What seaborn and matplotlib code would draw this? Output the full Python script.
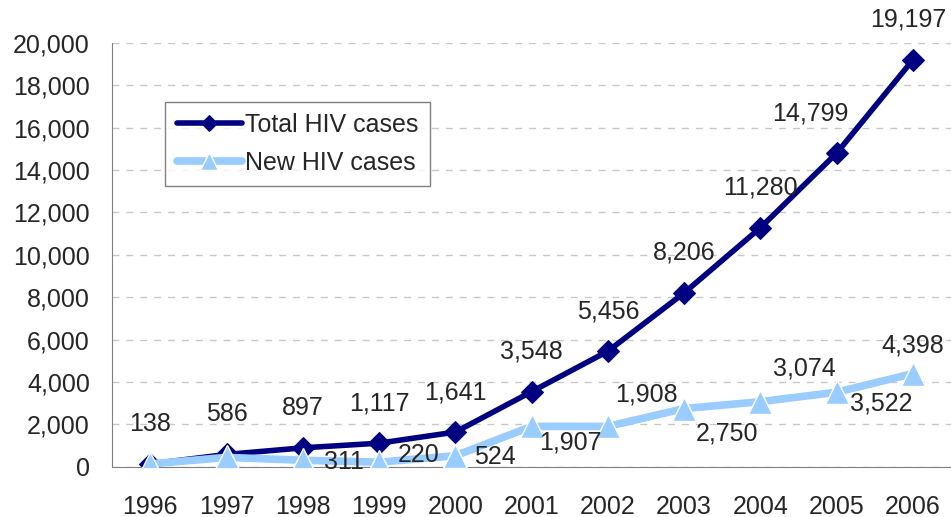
import pandas as pd
import matplotlib
matplotlib.use("Agg")
import matplotlib.pyplot as plt
import seaborn as sns

# Data
years = ["1996", "1997", "1998", "1999", "2000", "2001", "2002", "2003", "2004", "2005", "2006"]
total_cases = [138, 586, 897, 1117, 1641, 3548, 5456, 8206, 11280, 14799, 19197]
new_cases = [138, 448, 311, 220, 524, 1907, 1908, 2750, 3074, 3522, 4398]

# which labels the original shows for the new series, and where (pixel offsets)
new_label_shown = [False, False, True, True, True, True, True, True, True, True, True]
new_label_dx = [0, 0, 41, 40, 40, 39, 39, 43, 44, 45, 0]
new_label_dy = [0, 0, -2, 7, -1, -16, 32, -25, 33, -11, 28]
total_label_dx = [0, 0, 0, 0, 0, 0, 0, 0, 0, -26, -5]

NAVY = "#000080"
LIGHT = "#99CCFF"
FS = 18

sns.set_style("white")
plt.rcParams["font.family"] = ["Liberation Sans", "DejaVu Sans"]

df = pd.DataFrame({"pos": range(len(years)), "total": total_cases, "new": new_cases})

fig = plt.figure(figsize=(9.51, 5.17), dpi=100)
ax = fig.add_axes([0.118, 0.097, 0.882, 0.82])

sns.lineplot(data=df, x="pos", y="total", ax=ax, color=NAVY, linewidth=4,
             marker="D", markersize=11, markeredgecolor=NAVY,
             label="Total HIV cases", zorder=2)
sns.lineplot(data=df, x="pos", y="new", ax=ax, color=LIGHT, linewidth=5.5,
             marker="^", markersize=17, markeredgecolor="white", markeredgewidth=1,
             label="New HIV cases", zorder=3)

# data labels
for i, v in enumerate(total_cases):
    ax.annotate(f"{v:,}", (i, v), xytext=(total_label_dx[i], 40), textcoords="offset pixels",
                ha="center", va="center", fontsize=FS)
for i, v in enumerate(new_cases):
    if new_label_shown[i]:
        ax.annotate(f"{v:,}", (i, v), xytext=(new_label_dx[i], new_label_dy[i]),
                    textcoords="offset pixels", ha="center", va="center", fontsize=FS)

ax.set_xlim(-0.5, len(years) - 0.5)
ax.set_ylim(0, 20000)
ax.set_xticks(range(len(years)))
ax.set_xticklabels(years)
ax.set_yticks(range(0, 20001, 2000))
ax.set_yticklabels([f"{t:,}" for t in range(0, 20001, 2000)])
ax.tick_params(axis="both", length=0, labelsize=FS)
ax.tick_params(axis="x", pad=20)
ax.tick_params(axis="y", pad=16)
ax.set_xlabel("")
ax.set_ylabel("")

ax.yaxis.grid(True, linestyle=(0, (5, 5)), color="#c8c8c8", linewidth=1)
ax.set_axisbelow(True)
for s in ["top", "right"]:
    ax.spines[s].set_visible(False)
ax.spines["left"].set_color("#808080")
ax.spines["bottom"].set_color("#808080")

leg = ax.legend(loc="upper left",
                bbox_to_anchor=(0.174, 0.803), bbox_transform=fig.transFigure,
                fontsize=FS, fancybox=False, frameon=True, handlelength=2.6,
                handletextpad=0.15, borderpad=0.45, labelspacing=0.55, borderaxespad=0,
                markerscale=0.75)
leg.get_frame().set_edgecolor("#606060")
leg.get_frame().set_linewidth(1)

fig.savefig("out.png", dpi=100)
